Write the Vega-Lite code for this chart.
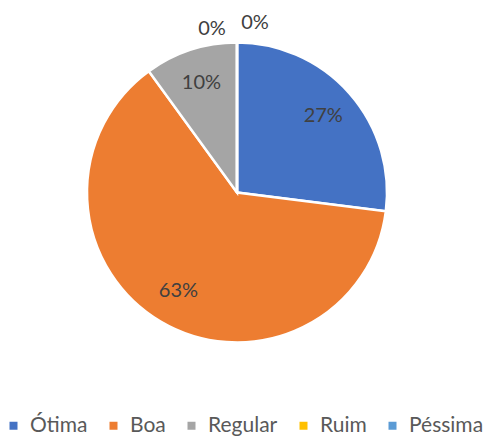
{
  "$schema": "https://vega.github.io/schema/vega-lite/v6.json",
  "width": 474,
  "height": 385,
  "autosize": "none",
  "padding": {"left": 0, "top": 0, "right": 20, "bottom": 54},
  "background": "white",
  "config": {"view": {"stroke": null}, "font": "Lato"},
  "data": {
    "values": [
      {"cat": "Ótima", "value": 0.27, "ord": 1},
      {"cat": "Boa", "value": 0.63, "ord": 2},
      {"cat": "Regular", "value": 0.10, "ord": 3},
      {"cat": "Ruim", "value": 0, "ord": 4},
      {"cat": "Péssima", "value": 0, "ord": 5}
    ]
  },
  "encoding": {
    "theta": {"field": "value", "type": "quantitative", "stack": true},
    "order": {"field": "ord", "type": "quantitative"}
  },
  "layer": [
    {
      "mark": {"type": "arc", "radius": 150, "stroke": "white", "strokeWidth": 2.5},
      "encoding": {
        "color": {
          "field": "cat",
          "type": "nominal",
          "scale": {
            "domain": ["Ótima", "Boa", "Regular", "Ruim", "Péssima"],
            "range": ["#4472C4", "#ED7D31", "#A5A5A5", "#FFC000", "#5B9BD5"]
          },
          "legend": {
            "title": null,
            "orient": "none",
            "direction": "horizontal",
            "legendX": 3,
            "legendY": 415,
            "symbolType": "square",
            "symbolSize": 64,
            "symbolStrokeWidth": 0,
            "labelFontSize": 21,
            "labelColor": "#595959",
            "labelFont": "Lato",
            "labelOffset": 6,
            "columnPadding": 15,
            "labelLimit": 200
          }
        }
      }
    },
    {
      "transform": [{"filter": "datum.value > 0"}],
      "mark": {"type": "text", "radius": 115, "fontSize": 20, "color": "#404040", "font": "Lato"},
      "encoding": {"text": {"field": "value", "type": "quantitative", "format": ".0%"}}
    },
    {
      "transform": [{"filter": "datum.cat === 'Ruim'"}],
      "mark": {"type": "text", "radius": 164, "dx": -25, "fontSize": 20, "color": "#404040", "font": "Lato"},
      "encoding": {"text": {"field": "value", "type": "quantitative", "format": ".0%"}}
    },
    {
      "transform": [{"filter": "datum.cat === 'Péssima'"}],
      "mark": {"type": "text", "radius": 170, "dx": 18, "fontSize": 20, "color": "#404040", "font": "Lato"},
      "encoding": {"text": {"field": "value", "type": "quantitative", "format": ".0%"}}
    }
  ]
}
